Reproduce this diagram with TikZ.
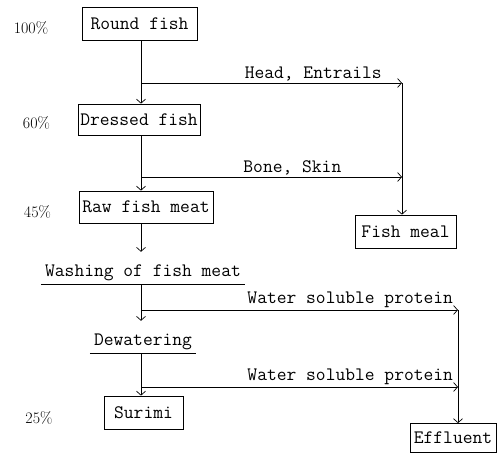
\documentclass[tikz,border=0pt]{standalone}
\usepackage{fontspec}
\usepackage{tikz}
\usetikzlibrary{calc,positioning,arrows.meta}

\begin{document}
\begin{tikzpicture}[x=1pt, y=-1pt,
  stepbox/.style={draw, rectangle, line width=0.7pt, inner xsep=1pt, minimum height=33pt, font=\ttfamily\fontsize{19}{21}\selectfont},
  uline/.style={anchor=base, inner xsep=4pt, inner ysep=4pt, text height=20pt, text depth=4pt, font=\ttfamily\fontsize{19}{21}\selectfont},
  pct/.style={font=\fontsize{16}{18}\selectfont},
  lbl/.style={above, inner sep=2pt, font=\ttfamily\fontsize{19}{21}\selectfont},
  flow/.style={line width=0.7pt, -{Straight Barb[length=4pt,width=9pt]}},
  link/.style={line width=0.7pt}]
  \useasboundingbox (0,0) rectangle (497,453);

  % Process steps
  \node[stepbox, minimum width=115pt] (round) at (139.5,23.5) {Round fish};
  \node[stepbox, minimum width=122pt, minimum height=31pt] (dressed) at (139,119.5) {Dressed fish};
  \node[stepbox, minimum width=134pt, minimum height=32pt] (raw) at (146,207) {Raw fish meat};
  \node[uline] (wash) at (143,276) {Washing of fish meat};
  \node[uline] (dew) at (143,345) {Dewatering};
  \node[stepbox, minimum width=79pt] (surimi) at (143.5,412.5) {Surimi};

  % By-products
  \node[stepbox, minimum width=101pt] (meal) at (405.5,231.5) {Fish meal};
  \node[stepbox, minimum width=86pt, minimum height=29pt] (effluent) at (453,438) {Effluent};

  % Yields
  \node[pct] (p100) at (31,28) {100\%};
  \node[pct] (p60) at (36.5,123) {60\%};
  \node[pct] (p45) at (37.5,212) {45\%};
  \node[pct] (p25) at (39,418) {25\%};

  % Underlines
  \draw[link] (wash.south west) -- (wash.south east);
  \draw[link] (dew.south west) -- (dew.south east);

  % Branch points
  \coordinate (j1) at (141,83);
  \coordinate (k1) at (402,83);
  \coordinate (j2) at (141,177);
  \coordinate (k2) at (402,177);
  \coordinate (j3) at (141,310);
  \coordinate (k3) at (458,310);
  \coordinate (j4) at (141,387);
  \coordinate (k4) at (458,387);

  % Main line
  \draw[flow] (round.south -| j1) -- (dressed.north -| j1);
  \draw[flow] (dressed.south -| j2) -- (raw.north -| j2);
  \draw[flow] (raw.south -| j2) -- (wash.north -| j2);
  \draw[flow] (wash.south -| j3) -- (dew.north -| j3);
  \draw[flow] (dew.south -| j4) -- (surimi.north -| j4);

  % Side streams
  \draw[flow] (j1) -- (k1) node[lbl, pos=0.66] {Head, Entrails};
  \draw[flow] (j2) -- (k2) node[lbl, pos=0.58] {Bone, Skin};
  \draw[flow] (k1) -- (meal.north -| k1);
  \draw[flow] (j3) -- (k3) node[lbl, pos=0.66] {Water soluble protein};
  \draw[flow] (j4) -- (k4) node[lbl, pos=0.66] {Water soluble protein};
  \draw[flow] (k3) -- (effluent.north -| k3);
\end{tikzpicture}
\end{document}
